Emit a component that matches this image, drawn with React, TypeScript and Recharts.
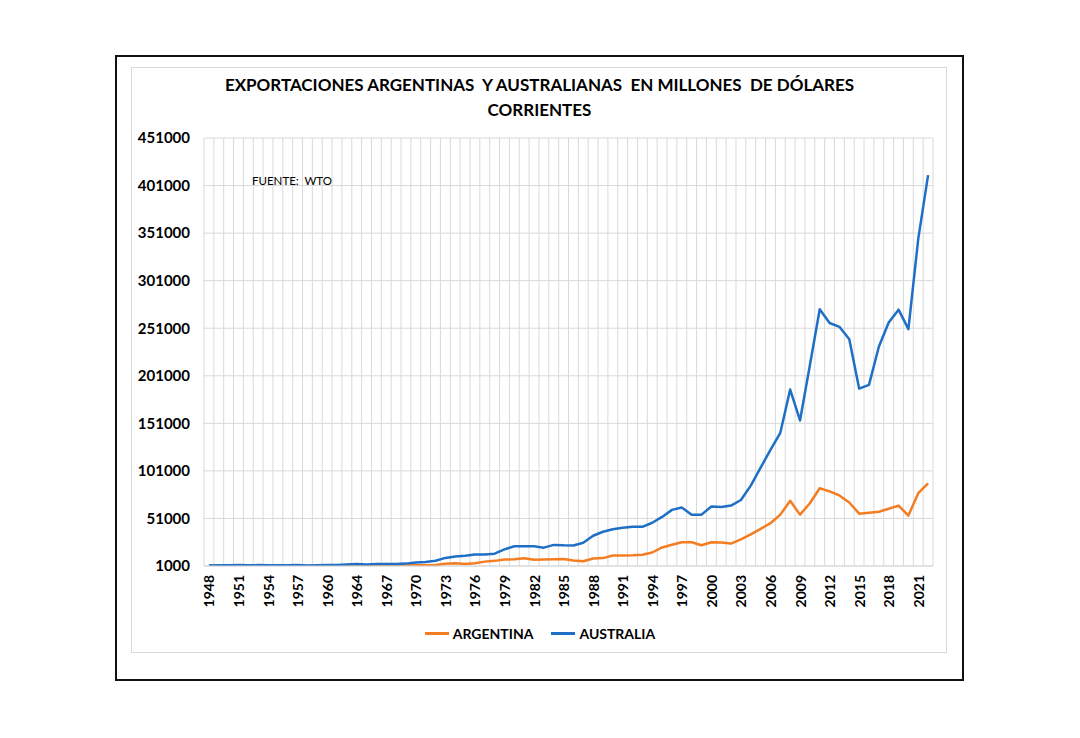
import React from 'react';
import { LineChart, Line, XAxis, YAxis, CartesianGrid, Legend } from 'recharts';

const years: number[] = [
  1948, 1949, 1950, 1951, 1952, 1953, 1954, 1955, 1956, 1957, 1958, 1959, 1960,
  1962, 1963, 1964, 1965, 1966, 1967, 1968, 1969, 1970, 1971, 1972, 1973, 1974,
  1975, 1976, 1977, 1978, 1979, 1980, 1981, 1982, 1983, 1984, 1985, 1986, 1987,
  1988, 1989, 1990, 1991, 1992, 1993, 1994, 1995, 1996, 1997, 1998, 1999, 2000,
  2001, 2002, 2003, 2004, 2005, 2006, 2007, 2008, 2009, 2010, 2011, 2012, 2013,
  2014, 2015, 2016, 2017, 2018, 2019, 2020, 2021, 2022,
];

const argentina: number[] = [
  1600, 1000, 1200, 1200, 700, 1100, 1000, 950, 950, 980, 1000, 1000, 1100,
  1200, 1400, 1400, 1500, 1600, 1500, 1400, 1600, 1800, 1700, 2000, 3300, 3900,
  3000, 3900, 5600, 6400, 7800, 8000, 9100, 7600, 7800, 8100, 8400, 6900, 6000,
  8800, 9300, 12000, 12000, 12200, 12800, 15200, 20500, 23300, 26000, 26000, 22800, 25900,
  25800, 24600, 29000, 34300, 40000, 46000, 55000, 69500, 55000, 67000, 82800, 79500, 75200,
  67800, 56000, 57000, 58000, 61200, 64500, 54000, 77500, 88000,
];

const australia: number[] = [
  1650, 1800, 1700, 2000, 1700, 1950, 1700, 1750, 1850, 2050, 1650, 1850, 1950,
  2100, 2600, 3000, 2700, 3000, 3000, 3100, 3500, 4700, 5200, 6500, 9500, 10900,
  11800, 13000, 13200, 14000, 18500, 21800, 21800, 21800, 20300, 23200, 22700, 22600, 25500,
  32800, 37000, 39600, 41300, 42200, 42200, 46500, 52600, 60000, 62500, 55000, 55000, 63500,
  63000, 64500, 70400, 85500, 104500, 123000, 141000, 186500, 154000, 212000, 271000, 256500, 252500,
  239500, 187500, 191500, 231500, 257000, 270500, 250000, 345000, 412000,
];

const yTicks: number[] = [1000, 51000, 101000, 151000, 201000, 251000, 301000, 351000, 401000, 451000];

const seriesNames: string[] = ['ARGENTINA', 'AUSTRALIA'];
const seriesColors: string[] = ['#F47D22', '#1F6FC6'];

const titleLines: string[] = [
  'EXPORTACIONES ARGENTINAS  Y AUSTRALIANAS  EN MILLONES  DE DÓLARES',
  'CORRIENTES',
];
const sourceNote = 'FUENTE:  WTO';

const data = years.map((y, i) => ({
  year: String(y),
  ARGENTINA: argentina[i],
  AUSTRALIA: australia[i],
}));

const FONT = 'Lato, "Open Sans", "DejaVu Sans", sans-serif';

const XTick = (props: any) => {
  const { x, y, payload } = props;
  return (
    <g transform={`translate(${x},${y})`}>
      <text
        transform="rotate(-90)"
        x={0}
        y={0}
        textAnchor="end"
        dominantBaseline="central"
        fontSize={14}
        fontWeight={700}
        fill="#000"
        fontFamily={FONT}
      >
        {payload.value}
      </text>
    </g>
  );
};

const LegendContent = () => (
  <div
    style={{
      display: 'flex',
      justifyContent: 'center',
      alignItems: 'center',
      gap: 18,
      fontFamily: FONT,
      fontWeight: 700,
      fontSize: 14,
      color: '#000',
      height: 22,
    }}
  >
    {seriesNames.map((n, i) => (
      <div key={n} style={{ display: 'flex', alignItems: 'center' }}>
        <div style={{ width: 24, height: 3, background: seriesColors[i], marginRight: 4 }} />
        <span>{n}</span>
      </div>
    ))}
  </div>
);

export default function App() {
  return (
    <div
      style={{
        position: 'absolute',
        left: 0,
        top: 0,
        width: 1080,
        height: 738,
        background: '#fff',
        overflow: 'hidden',
      }}
    >
      <div
        style={{
          position: 'absolute',
          left: 115,
          top: 55,
          width: 849,
          height: 626,
          border: '2px solid #111',
          boxSizing: 'border-box',
        }}
      />
      <div
        style={{
          position: 'absolute',
          left: 131,
          top: 67,
          width: 816,
          height: 586,
          border: '1px solid #d9d9d9',
          boxSizing: 'border-box',
        }}
      />
      <div
        style={{
          position: 'absolute',
          left: 115,
          top: 72,
          width: 849,
          textAlign: 'center',
          fontFamily: FONT,
          fontWeight: 700,
          fontSize: 17,
          lineHeight: '25px',
          color: '#000',
          whiteSpace: 'pre',
        }}
      >
        {titleLines.map((t) => (
          <div key={t}>{t}</div>
        ))}
      </div>
      <div style={{ position: 'absolute', left: 0, top: 0 }}>
        <LineChart
          width={1080}
          height={738}
          data={data}
          margin={{ top: 138, right: 147, left: 0, bottom: 112 }}
        >
          <CartesianGrid
            stroke="#d9d9d9"
            strokeWidth={1}
            verticalCoordinatesGenerator={(props: any) => {
              const o = props.offset;
              const n = data.length;
              return Array.from({ length: n + 1 }, (_, i) => o.left + (i * o.width) / n);
            }}
          />
          <XAxis
            dataKey="year"
            interval={2}
            height={60}
            tickLine={false}
            tickSize={0}
            tickMargin={9}
            axisLine={{ stroke: '#d9d9d9' }}
            padding={{ left: 4.9, right: 4.9 }}
            tick={<XTick />}
          />
          <YAxis
            width={204}
            domain={[1000, 451000]}
            ticks={yTicks}
            allowDataOverflow
            axisLine={false}
            tickLine={false}
            tickSize={0}
            tickMargin={14}
            tick={{ fontSize: 15, fontWeight: 700, fill: '#000', fontFamily: FONT }}
          />
          <Legend
            layout="horizontal"
            verticalAlign="middle"
            align="center"
            wrapperStyle={{ top: 622, left: 0, width: 1080 }}
            content={<LegendContent />}
          />
          {seriesNames.map((n, i) => (
            <Line
              key={n}
              type="linear"
              dataKey={n}
              stroke={seriesColors[i]}
              strokeWidth={2.5}
              dot={false}
              isAnimationActive={false}
              strokeLinejoin="round"
            />
          ))}
        </LineChart>
      </div>
      <div
        style={{
          position: 'absolute',
          left: 252,
          top: 174,
          fontFamily: FONT,
          fontSize: 11.5,
          color: '#000',
          whiteSpace: 'pre',
        }}
      >
        {sourceNote}
      </div>
    </div>
  );
}
